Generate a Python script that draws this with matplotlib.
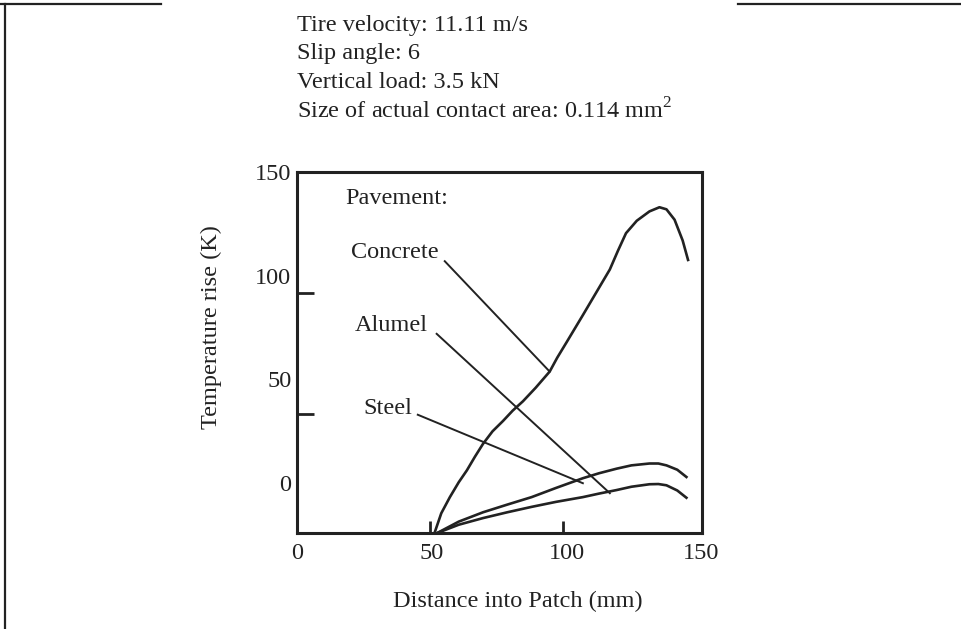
import matplotlib
matplotlib.use("Agg")
import matplotlib.pyplot as plt
from matplotlib.lines import Line2D

plt.rcParams['font.family'] = ['Liberation Serif', 'DejaVu Serif']
plt.rcParams['mathtext.fontset'] = 'custom'
plt.rcParams['mathtext.rm'] = 'Liberation Serif'
plt.rcParams['font.size'] = 17.5

ink = '#222222'

# curves (distance mm, temperature rise K)
concrete_x = [51, 53.5, 56.7, 60, 63, 66, 69, 72.5, 76.4, 80, 83.8, 88.5, 93.7, 96.5, 100, 106,
              111, 116, 119, 122, 126, 130.7, 134.4, 137, 140, 143, 145]
concrete_y = [-24, -14.5, -6.7, 0.5, 6.2, 12.8, 19, 25, 30, 35, 39.5, 46, 53.8, 60.5, 68, 81,
              92, 103, 112, 120.5, 126.5, 131, 133, 132, 127, 117, 107.6]

alumel_x = [52, 60, 69, 78, 87, 96, 106, 112, 118.5, 124, 130.7, 134, 137, 141, 144.4]
alumel_y = [-24, -18.5, -14, -10.3, -6.7, -2.3, 2.4, 4.8, 7, 8.6, 9.5, 9.5, 8.6, 6.5, 3]

steel_x = [52, 60, 69, 78, 87, 96, 106, 112, 118.5, 124, 130.7, 134, 137, 141, 144.4]
steel_y = [-24, -20, -16.8, -14, -11.4, -9, -6.7, -5, -3.3, -1.7, -0.5, -0.4, -1, -3.5, -7]

# labels and their leader lines
labels = ['Pavement:', 'Concrete', 'Alumel', 'Steel']
label_x = [17.8, 20, 21.5, 24.8]
label_y = [137, 111, 76, 36]
leader_x = [[54.8, 93.7], [51.8, 116], [44.8, 106]]
leader_y = [[107, 53.8], [72, -4.8], [33, 0]]

header = ['Tire velocity: 11.11 m/s', 'Slip angle: 6', 'Vertical load: 3.5 kN',
          'Size of actual contact area: 0.114 mm$^{2}$']

xticks = [0, 50, 100, 150]
yticks = [0, 50, 100, 150]
y_marks = [33.5, 91.5]
x_marks = [49.3, 98.5]

fig = plt.figure(figsize=(9.61, 6.29), dpi=100)
ax = fig.add_axes([0.309, 0.1526, 0.421, 0.574])

ax.plot(concrete_x, concrete_y, color=ink, lw=1.9)
ax.plot(alumel_x, alumel_y, color=ink, lw=1.9)
ax.plot(steel_x, steel_y, color=ink, lw=1.9)

for lx, ly in zip(leader_x, leader_y):
    ax.plot(lx, ly, color=ink, lw=1.4)

for t, x, y in zip(labels, label_x, label_y):
    ax.text(x, y, t, ha='left', va='center', color=ink)

ax.set_xlim(0, 150)
ax.set_ylim(-24, 150)
for s in ax.spines.values():
    s.set_linewidth(2.2)
    s.set_color(ink)

ax.set_xticks(xticks)
ax.set_yticks(yticks)
ax.tick_params(length=0, pad=7, labelcolor=ink)
ax.tick_params(axis='y', pad=4)
ax.set_xticks(x_marks, minor=True)
ax.set_yticks(y_marks, minor=True)
ax.tick_params(which='minor', direction='in', color=ink)
ax.tick_params(axis='y', which='minor', length=12, width=2)
ax.tick_params(axis='x', which='minor', length=8.5, width=2)

ax.set_xlabel('Distance into Patch (mm)', color=ink)
ax.xaxis.set_label_coords(0.545, -0.16)
ax.set_ylabel('Temperature rise (K)', color=ink)
ax.yaxis.set_label_coords(-0.185, 0.57)

for i, t in enumerate(header):
    fig.text(297 / 961, 1 - (25 + 28.5 * i) / 629, t, ha='left', va='center', color=ink)

# page border from the scan
fig.add_artist(Line2D([0, 0.1675], [0.9936, 0.9936], color=ink, lw=1.6))
fig.add_artist(Line2D([0.768, 1], [0.9936, 0.9936], color=ink, lw=1.6))
fig.add_artist(Line2D([0.0052, 0.0052], [0, 0.9936], color=ink, lw=1.6))

fig.savefig('out.png', dpi=100)
